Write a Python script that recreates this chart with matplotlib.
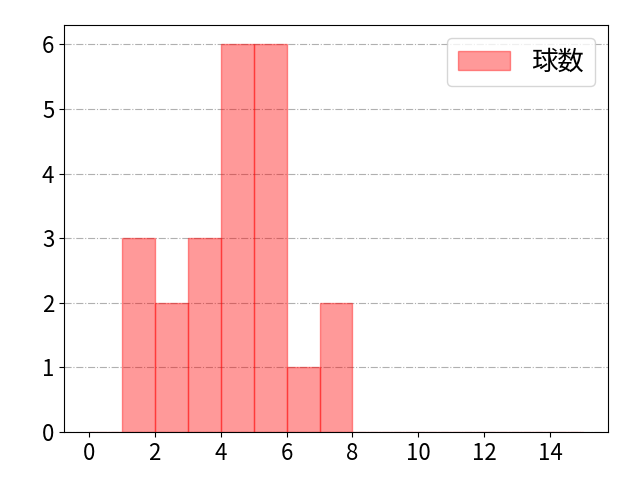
import matplotlib
matplotlib.use("Agg")
import matplotlib.pyplot as plt

plt.rcParams["font.family"] = ["Noto Sans CJK JP", "DejaVu Sans"]
plt.rcParams["font.size"] = 16

# pitch counts per bin (bins 0..15, width 1)
bin_edges = list(range(0, 16))
bin_lefts = bin_edges[:-1]
counts = [0, 3, 2, 3, 6, 6, 1, 2, 0, 0, 0, 0, 0, 0, 0]
label = "球数"

fig, ax = plt.subplots(figsize=(6.4, 4.8), dpi=100)
ax.hist(bin_lefts, bins=bin_edges, weights=counts, color="red", alpha=0.4,
        edgecolor="red", label=label)
ax.grid(axis="y", linestyle="-.", color="#b0b0b0")
ax.set_axisbelow(True)
ax.set_xticks(range(0, 15, 2))
ax.legend(loc="upper right", fontsize=19)

fig.subplots_adjust(left=0.1, right=0.95, bottom=0.1, top=0.948)
fig.savefig("out.png")
